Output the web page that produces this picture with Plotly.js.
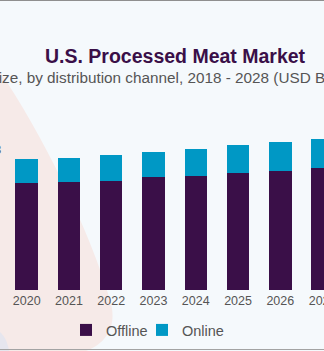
<!DOCTYPE html>
<html>
<head>
<meta charset="utf-8">
<script src="https://cdn.plot.ly/plotly-3.0.1.min.js"></script>
<style>
  html, body { margin: 0; padding: 0; width: 324px; height: 351px; overflow: hidden; background: #ffffff; }
  #wrap { position: absolute; left: 0; top: 0; width: 324px; height: 351px; overflow: hidden; background: #f5f9fc; }
  #chart { position: absolute; left: -100px; top: 0; width: 500px; height: 351px; }
  #topline { position: absolute; left: 0; top: 0; width: 324px; height: 1px; background: #8f8f8f; }
  #botline { position: absolute; left: 0; top: 349px; width: 324px; height: 1px; background: #a3a3a3; }
</style>
</head>
<body>
<div id="wrap"><div id="chart"></div><div id="topline"></div><div id="botline"></div></div>
<script>
// ---- data (USD Billion) ----
const years = [2018, 2019, 2020, 2021, 2022, 2023, 2024, 2025, 2026, 2027, 2028];
const offline = [35.5, 36.2, 36.8, 37.3, 37.7, 38.9, 39.3, 40.2, 40.9, 42.2, 43.3];
const online  = [6.9, 7.6, 8.3, 8.3, 8.9, 8.6, 9.2, 9.7, 10.0, 10.0, 10.5];
const seriesNames = ['Offline', 'Online'];
const titleText = 'U.S. Processed Meat Market';
const subtitleText = 'Market size, by distribution channel, 2018 - 2028 (USD Billion)';
const firstLabel = '43.8';

// ---- geometry helpers (div is shifted 100px left of the window) ----
const OFF = 100, ML = 21, MR = 14, MT = 116, MB = 61, W = 500, H = 351;
const PW = W - ML - MR, PH = H - MT - MB;
const px = sx => (sx + OFF - ML) / PW;        // window x -> paper x
const py = sy => (H - MB - sy) / PH;           // window y -> paper y

function pathFrom(pts) {
  return pts.map(p => {
    if (typeof p === 'string') return p;
    return px(p[0]).toFixed(4) + ',' + py(p[1]).toFixed(4);
  }).join(' ');
}

const font = 'Liberation Sans, Arial, sans-serif';

const traces = [
  { type: 'bar', name: seriesNames[0], x: years, y: offline, legend: 'legend',
    marker: { color: '#3a0f48' }, hoverinfo: 'skip' },
  { type: 'bar', name: seriesNames[1], x: years, y: online, legend: 'legend2',
    marker: { color: '#0098c5' }, hoverinfo: 'skip' }
];

const pinkPath = pathFrom(['M', [-160, 30], 'L', [0, 72], 'C', [40, 130], [90, 230], [110, 300],
  'C', [120, 332], [100, 356], [55, 356], 'L', [-160, 356], 'Z']);
const grayPath = pathFrom(['M', [-10, 326], 'C', [3, 331], [8, 340], [10, 356], 'L', [-10, 356], 'Z']);

const legendBase = { orientation: 'h', xanchor: 'left', yanchor: 'middle', y: py(330),
  font: { size: 14.5, color: '#555555' }, bgcolor: 'rgba(0,0,0,0)' };

const layout = {
  width: W, height: H,
  margin: { l: ML, r: MR, t: MT, b: MB, pad: 0, autoexpand: false },
  paper_bgcolor: 'rgba(0,0,0,0)', plot_bgcolor: 'rgba(0,0,0,0)',
  barmode: 'stack', bargap: 0.468,
  font: { family: font, color: '#555555' },
  showlegend: true,
  legend: Object.assign({}, legendBase, { x: px(66) }),
  legend2: Object.assign({}, legendBase, { x: px(142) }),
  xaxis: { type: 'linear', range: [2017.5, 2028.5], tickmode: 'array', tickvals: years,
           ticktext: years.map(String), showgrid: false, zeroline: false, showline: false,
           ticks: '', ticklabelstandoff: 1,
           tickfont: { size: 12.5, color: '#555555' }, fixedrange: true },
  yaxis: { range: [0, 60], visible: false, fixedrange: true },
  shapes: [
    { type: 'path', xref: 'paper', yref: 'paper', path: pinkPath, fillcolor: '#f6eae8',
      line: { width: 0 }, layer: 'below' },
    { type: 'path', xref: 'paper', yref: 'paper', path: grayPath, fillcolor: '#e6e6ee',
      line: { width: 0 }, layer: 'below' }
  ],
  annotations: [
    { xref: 'paper', yref: 'paper', x: px(175), y: py(56.5), xanchor: 'center', yanchor: 'middle',
      text: '<b>' + titleText + '</b>', showarrow: false,
      font: { family: font, size: 19.5, color: '#3a0f48' } },
    { xref: 'paper', yref: 'paper', x: px(-61.8), y: py(77), xanchor: 'left', yanchor: 'middle',
      text: subtitleText, showarrow: false,
      font: { family: font, size: 15.3, color: '#555555' } },
    { xref: 'paper', yref: 'paper', x: px(2.5), y: py(149), xanchor: 'right', yanchor: 'middle',
      text: firstLabel, showarrow: false,
      font: { family: font, size: 13, color: '#555555' } }
  ]
};

Plotly.newPlot('chart', traces, layout, { staticPlot: true, displayModeBar: false });
</script>
</body>
</html>
